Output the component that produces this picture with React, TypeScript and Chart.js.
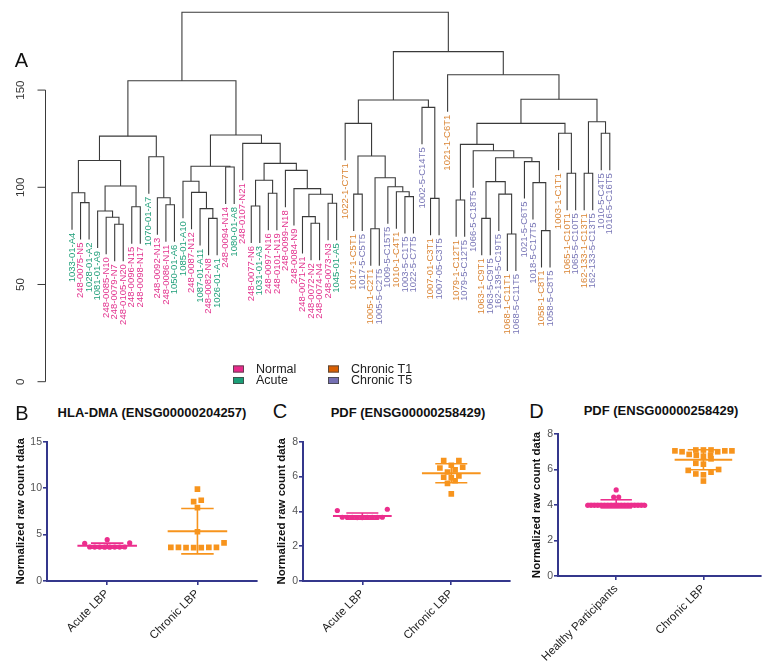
import React, { useEffect, useRef } from 'react';
import { Chart, registerables } from 'chart.js';

Chart.register(...registerables);

const FONT = '"Liberation Sans", Arial, Helvetica, sans-serif';

// ---------------- Panel A: hierarchical clustering ----------------
const leafLabels: string[] = [
  '1033-01-A4', '248-0075-N5', '1028-01-A2', '1081-01-A9', '248-0085-N10', '248-0079-N7', '248-0105-N20', '248-0096-N15', '248-0098-N17',
  '1070-01-A7', '248-0092-N13', '248-0086-N11', '1050-01-A6', '1085-01-A10', '248-0087-N12', '1087-01-A11', '248-0082-N8', '1026-01-A1',
  '248-0094-N14', '1080-01-A8', '248-0107-N21', '248-0077-N6', '1031-01-A3', '248-0097-N16', '248-0101-N19', '248-0099-N18', '248-0084-N9',
  '248-0071-N1', '248-0072-N2', '248-0074-N4', '248-0073-N3', '1045-01-A5',
  '1022-1-C7T1', '1017-1-C5T1', '1017-5-C5T5', '1005-1-C2T1', '1005-5-C2T5', '1009-5-C15T5', '1010-1-C4T1', '1003-5-C1T5', '1022-5-C7T5',
  '1002-5-C14T5', '1007-01-C3T1', '1007-05-C3T5', '1021-1-C6T1', '1079-1-C12T1', '1079-5-C12T5', '1066-5-C18T5', '1063-1-C9T1', '1063-5-C9T5',
  '162-139-5-C19T5', '1068-1-C11T1', '1068-5-C11T5', '1021-5-C6T5', '1018-5-C17T5', '1058-1-C8T1', '1058-5-C8T5', '1003-1-C1T1',
  '1065-1-C10T1', '1065-5-C10T5', '162-133-1-C13T1', '162-133-5-C13T5', '1010-5-C4T5', '1016-5-C16T5',
];

// hclust-style merge table: negative = leaf number (1-based, in plotted order), positive = earlier merge row (1-based); third = height
const merges: [number, number, number][] = [
  [-2, -3, 92.1], [-1, 1, 97.2], [-6, -7, 81.0], [-5, 3, 84.6], [-4, 4, 87.8], [-8, -9, 90.0], [5, 6, 100.7], [2, 7, 113.8],
  [-12, -13, 91.0], [-11, 9, 94.6], [-10, 10, 115.7], [8, 11, 126.3],
  [-17, -18, 84.0], [-16, 13, 89.0], [-15, 14, 97.4], [-14, 15, 103.1], [-19, -20, 110.4], [16, 17, 110.8],
  [-22, -23, 90.4], [-24, -25, 96.9], [19, 20, 103.6], [-29, -30, 81.5], [-28, 22, 84.9], [-31, -32, 91.8], [23, 24, 96.4],
  [-27, 25, 99.3], [-26, 26, 108.7], [21, 27, 112.3], [-21, 28, 122.6], [18, 29, 126.9], [12, 30, 154.8],
  [-34, -35, 96.5], [-36, -37, 78.7], [-40, -41, 95.2], [-39, 34, 97.7], [-38, 35, 100.3], [33, 36, 104.9], [32, 37, 116.1],
  [-33, 38, 132.9], [-43, -44, 94.3], [-42, 40, 141.1], [39, 41, 144.9],
  [-46, -47, 93.5], [-49, -50, 84.0], [-52, -53, 76.0], [-51, 45, 96.5], [44, 46, 102.9], [-56, -57, 77.7], [-55, 48, 102.4],
  [-54, 49, 113.2], [47, 50, 115.2], [-48, 51, 118.8], [43, 52, 122.1], [-59, -60, 107.2], [-58, 54, 127.8], [53, 55, 132.9],
  [-61, -62, 107.2], [-63, -64, 127.8], [57, 58, 133.7], [56, 59, 145.3], [-45, 60, 157.9], [42, 61, 169.8], [31, 62, 190.0],
];

const dendroYTicks = [0, 50, 100, 150];
const legendItems = ['Normal', 'Acute', 'Chronic T1', 'Chronic T5'];
const groupColor: Record<string, string> = {
  Normal: '#e7298a', Acute: '#1b9e77', 'Chronic T1': '#d95f02', 'Chronic T5': '#7570b3',
};
const labelColor: Record<string, string> = {
  Normal: '#e2338e', Acute: '#22a07b', 'Chronic T1': '#da8535', 'Chronic T5': '#7876b6',
};

// ---------------- Panels B, C, D ----------------
const panelBTitle = 'HLA-DMA (ENSG00000204257)';
const panelBCategories = ['Acute LBP', 'Chronic LBP'];
const panelBAcute = [4.45, 4.05, 3.65, 3.64, 3.66, 3.65, 3.64, 3.66, 3.65, 3.65, 4.1];
const panelBChronic = [9.9, 8.7, 8.55, 7.9, 5.3, 4.1, 3.62, 3.6, 3.62, 3.6, 3.62, 3.6, 3.62];

const panelCTitle = 'PDF (ENSG00000258429)';
const panelCCategories = ['Acute LBP', 'Chronic LBP'];
const panelCAcute = [4.12, 4.05, 3.65, 3.65, 3.64, 3.66, 3.65, 3.64, 3.66, 3.65, 3.65];
const panelCChronic = [6.91, 6.91, 6.65, 6.49, 6.53, 6.38, 6.26, 5.96, 5.94, 6.03, 5.76, 5.61, 5.0];

const panelDTitle = 'PDF (ENSG00000258429)';
const panelDCategories = ['Healthy Participants', 'Chronic LBP'];
const panelDHealthy = [4.85, 4.45, 4.45, 3.98, 3.98, 3.98, 3.98, 3.98, 3.98, 3.98, 3.98, 3.98, 3.98, 3.98, 3.98, 3.98, 3.98, 3.98, 3.98, 3.98, 3.98];
const panelDChronic = [7.1, 7.05, 7.1, 7.0, 7.05, 7.1, 7.0, 7.05, 6.8, 6.85, 6.75, 6.8, 6.6, 6.35, 6.3, 6.0, 5.95, 5.85, 5.75, 5.7, 5.35];

const PINK = '#ec2e8d';
const ORANGE = '#f7941d';
const NAVY = '#34378c';
const MEAN_HALF = 0.33;
const CAP_HALF = 0.18;

function groupOf(label: string): string {
  if (/T1$/.test(label)) return 'Chronic T1';
  if (/T5$/.test(label)) return 'Chronic T5';
  if (/-N\d+$/.test(label)) return 'Normal';
  return 'Acute';
}

function buildDendro() {
  const maxH = Math.max(...merges.map((m) => m[2]));
  const hang = 0.1 * maxH;
  const nodeX: number[] = [];
  const leafBottom: number[] = new Array(leafLabels.length).fill(0);
  const segments: { x: number; y: number }[][] = [];
  merges.forEach(([a, b, h], i) => {
    const child = (r: number) => {
      if (r < 0) {
        const li = -r - 1;
        leafBottom[li] = h - hang;
        return { x: li, y: h - hang };
      }
      return { x: nodeX[r - 1], y: merges[r - 1][2] };
    };
    const ca = child(a);
    const cb = child(b);
    nodeX[i] = (ca.x + cb.x) / 2;
    segments.push([
      { x: ca.x, y: ca.y }, { x: ca.x, y: h }, { x: cb.x, y: h }, { x: cb.x, y: cb.y },
    ]);
  });
  return { segments, leafBottom };
}

function Dendrogram() {
  const ref = useRef<HTMLCanvasElement>(null);
  useEffect(() => {
    const { segments, leafBottom } = buildDendro();
    const decor = {
      id: 'dendroDecor',
      afterDraw(chart: any) {
        const { ctx, chartArea } = chart;
        const xs = chart.scales.x;
        const ys = chart.scales.y;
        ctx.save();
        const axisX = Math.round(chartArea.left - 1.5) + 0.5;
        ctx.strokeStyle = '#3a3a3a';
        ctx.lineWidth = 1;
        ctx.beginPath();
        ctx.moveTo(axisX, ys.getPixelForValue(dendroYTicks[0]));
        ctx.lineTo(axisX, ys.getPixelForValue(dendroYTicks[dendroYTicks.length - 1]));
        dendroYTicks.forEach((t) => {
          const y = ys.getPixelForValue(t);
          ctx.moveTo(axisX, y);
          ctx.lineTo(axisX - 8, y);
        });
        ctx.stroke();
        ctx.fillStyle = '#333';
        ctx.font = `11.5px ${FONT}`;
        ctx.textAlign = 'center';
        ctx.textBaseline = 'middle';
        dendroYTicks.forEach((t) => {
          ctx.save();
          ctx.translate(axisX - 25, ys.getPixelForValue(t));
          ctx.rotate(-Math.PI / 2);
          ctx.fillText(String(t), 0, 0);
          ctx.restore();
        });
        // leaf labels
        ctx.font = `9.5px ${FONT}`;
        ctx.textAlign = 'right';
        ctx.textBaseline = 'middle';
        leafLabels.forEach((lab, i) => {
          const px = xs.getPixelForValue(i);
          const py = ys.getPixelForValue(leafBottom[i]) + 3;
          ctx.save();
          ctx.translate(px, py);
          ctx.rotate(-Math.PI / 2);
          ctx.fillStyle = labelColor[groupOf(lab)];
          ctx.fillText(lab, 0, 0);
          ctx.restore();
        });
        // legend
        ctx.font = `12.5px ${FONT}`;
        ctx.textAlign = 'left';
        ctx.textBaseline = 'middle';
        legendItems.forEach((item, i) => {
          const col = Math.floor(i / 2);
          const row = i % 2;
          const bx = 233 + col * 95;
          const cy = 369 + row * 11.5;
          ctx.fillStyle = groupColor[item];
          ctx.fillRect(bx, cy - 3.5, 11, 7);
          ctx.strokeStyle = '#444';
          ctx.lineWidth = 0.8;
          ctx.strokeRect(bx + 0.4, cy - 3.1, 10.2, 6.2);
          ctx.fillStyle = '#222';
          ctx.fillText(item, bx + 23, cy + 0.5);
        });
        ctx.restore();
      },
    };
    const chart = new Chart(ref.current as HTMLCanvasElement, {
      type: 'scatter',
      data: {
        datasets: segments.map((seg) => ({
          data: seg,
          showLine: true,
          pointRadius: 0,
          borderColor: '#3a3a3a',
          borderWidth: 1.1,
          tension: 0,
        })),
      },
      options: {
        animation: false,
        responsive: false,
        maintainAspectRatio: false,
        events: [],
        layout: { padding: { left: 46.4, right: 129.6, top: 2.6, bottom: 18.3 } },
        scales: {
          x: { type: 'linear', min: -3, max: 66, display: false },
          y: { type: 'linear', min: 0, max: 195, display: false },
        },
        plugins: { legend: { display: false }, tooltip: { enabled: false } },
      } as any,
      plugins: [decor],
    });
    return () => chart.destroy();
  }, []);
  return (
    <canvas
      ref={ref}
      width={765}
      height={400}
      style={{ position: 'absolute', left: 0, top: 0, width: 765, height: 400 }}
    />
  );
}

function meanOf(v: number[]) {
  return v.reduce((s, x) => s + x, 0) / v.length;
}
function sdOf(v: number[]) {
  const m = meanOf(v);
  return Math.sqrt(v.reduce((s, x) => s + (x - m) * (x - m), 0) / (v.length - 1));
}

// spread points of a column into horizontal rows (Prism-like scatter)
function rowSpread(values: number[], pxPerY: number, spacingPx: number, thresholdPx: number, maxWidthPx: number) {
  const idx = values.map((_, i) => i).sort((a, b) => values[a] - values[b]);
  const rows: number[][] = [];
  let cur: number[] = [];
  let start = 0;
  idx.forEach((i) => {
    if (cur.length && (values[i] - start) * pxPerY > thresholdPx) {
      rows.push(cur);
      cur = [];
    }
    if (!cur.length) start = values[i];
    cur.push(i);
  });
  if (cur.length) rows.push(cur);
  const offs = new Array(values.length).fill(0);
  rows.forEach((row) => {
    const n = row.length;
    const sp = n > 1 ? Math.min(spacingPx, maxWidthPx / (n - 1)) : 0;
    const slots = Array.from({ length: n }, (_, k) => (k - (n - 1) / 2) * sp);
    const order = slots
      .map((_, k) => k)
      .sort((a, b) => Math.abs(slots[a]) - Math.abs(slots[b]) || slots[a] - slots[b]);
    row.forEach((vi, r) => {
      offs[vi] = slots[order[r]];
    });
  });
  return offs;
}

type Series = { values: number[]; color: string; shape: 'circle' | 'rect'; rowPx?: number };

type PanelProps = {
  left: number;
  top: number;
  width: number;
  height: number;
  padTop: number;
  padRight: number;
  yAxisWidth: number;
  xAxisHeight: number;
  yMax: number;
  yStep: number;
  titlePad: number;
  categories: string[];
  series: Series[];
};

function DotPanel(p: PanelProps) {
  const ref = useRef<HTMLCanvasElement>(null);
  useEffect(() => {
    const datasets: any[] = [];
    const swarm: { ds: number; cat: number; values: number[]; spacing: number; rowPx: number }[] = [];
    p.series.forEach((s, ci) => {
      const m = meanOf(s.values);
      const sd = sdOf(s.values);
      const line = (pts: { x: number; y: number }[], w: number) => ({
        data: pts,
        showLine: true,
        borderColor: s.color,
        borderWidth: w,
        pointRadius: 0,
        order: 0,
      });
      datasets.push(line([{ x: ci - MEAN_HALF, y: m }, { x: ci + MEAN_HALF, y: m }], 2));
      datasets.push(line([{ x: ci, y: m - sd }, { x: ci, y: m + sd }], 1.6));
      datasets.push(line([{ x: ci - CAP_HALF, y: m - sd }, { x: ci + CAP_HALF, y: m - sd }], 1.6));
      datasets.push(line([{ x: ci - CAP_HALF, y: m + sd }, { x: ci + CAP_HALF, y: m + sd }], 1.6));
      swarm.push({
        ds: datasets.length,
        cat: ci,
        values: s.values,
        spacing: s.shape === 'circle' ? 5 : 7.6,
        rowPx: s.rowPx ?? 5.5,
      });
      datasets.push({
        data: s.values.map((v) => ({ x: ci, y: v })),
        showLine: false,
        pointStyle: s.shape,
        pointRadius: s.shape === 'circle' ? 2.6 : 4,
        backgroundColor: s.color,
        borderColor: s.color,
        borderWidth: 0,
        order: 1,
      });
    });
    const axisCommon = {
      border: { display: true, color: NAVY, width: 2 },
      grid: { display: true, drawOnChartArea: false, drawTicks: true, tickLength: 4, color: NAVY, lineWidth: 1.6 },
    };
    const chart = new Chart(ref.current as HTMLCanvasElement, {
      type: 'scatter',
      data: { datasets },
      options: {
        animation: false,
        responsive: false,
        maintainAspectRatio: false,
        events: [],
        layout: { padding: { left: 0, right: p.padRight, top: p.padTop, bottom: 0 } },
        scales: {
          x: {
            type: 'linear',
            min: -0.667,
            max: 1.66,
            ...axisCommon,
            afterBuildTicks: (s: any) => {
              s.ticks = p.categories.map((_, i) => ({ value: i }));
            },
            afterFit: (s: any) => {
              s.height = p.xAxisHeight;
            },
            ticks: {
              autoSkip: false,
              minRotation: 45,
              maxRotation: 45,
              padding: 2,
              color: '#222',
              font: { family: FONT, size: 11.5 },
              callback: (v: any) => p.categories[Math.round(Number(v))] ?? '',
            },
          },
          y: {
            type: 'linear',
            min: 0,
            max: p.yMax,
            ...axisCommon,
            afterFit: (s: any) => {
              s.width = p.yAxisWidth;
            },
            ticks: {
              stepSize: p.yStep,
              padding: 1,
              color: '#555',
              font: { family: FONT, size: 10.5 },
            },
            title: {
              display: true,
              text: 'Normalized raw count data',
              color: '#111',
              font: { family: FONT, size: 11.5, weight: 'bold' },
              padding: { top: p.titlePad, bottom: 0 },
            },
          },
        },
        plugins: { legend: { display: false }, tooltip: { enabled: false } },
      } as any,
    });
    const xs: any = chart.scales.x;
    const ys: any = chart.scales.y;
    const pxX = Math.abs(xs.getPixelForValue(1) - xs.getPixelForValue(0));
    const pxY = Math.abs(ys.getPixelForValue(1) - ys.getPixelForValue(0));
    swarm.forEach((sw) => {
      const offs = rowSpread(sw.values, pxY, sw.spacing, sw.rowPx, 57);
      chart.data.datasets[sw.ds].data = sw.values.map((v, i) => ({ x: sw.cat + offs[i] / pxX, y: v })) as any;
    });
    chart.update();
    return () => chart.destroy();
  }, []);
  return (
    <canvas
      ref={ref}
      width={p.width}
      height={p.height}
      style={{ position: 'absolute', left: p.left, top: p.top, width: p.width, height: p.height }}
    />
  );
}

function Label(props: { x: number; y: number; size: number; bold?: boolean; children: React.ReactNode }) {
  return (
    <div
      style={{
        position: 'absolute',
        left: props.x,
        top: props.y,
        transform: 'translate(-50%, -50%)',
        fontFamily: FONT,
        fontSize: props.size,
        fontWeight: props.bold ? 'bold' : 'normal',
        lineHeight: 1,
        whiteSpace: 'nowrap',
        color: '#111',
      }}
    >
      {props.children}
    </div>
  );
}

export default function App() {
  return (
    <div
      style={{
        position: 'absolute',
        left: 0,
        top: 0,
        width: 765,
        height: 662,
        background: '#ffffff',
        overflow: 'hidden',
      }}
    >
      <Dendrogram />
      <Label x={21.5} y={60} size={20}>A</Label>
      <Label x={22} y={413} size={20}>B</Label>
      <Label x={280} y={411} size={20}>C</Label>
      <Label x={536.5} y={411} size={20}>D</Label>
      <Label x={152} y={412} size={13} bold>{panelBTitle}</Label>
      <Label x={408} y={412} size={13} bold>{panelCTitle}</Label>
      <Label x={661} y={410} size={13} bold>{panelDTitle}</Label>
      <DotPanel
        left={0}
        top={425}
        width={262}
        height={237}
        padTop={16.7}
        padRight={5}
        yAxisWidth={47}
        xAxisHeight={81}
        yMax={15}
        yStep={5}
        titlePad={14}
        categories={panelBCategories}
        series={[
          { values: panelBAcute, color: PINK, shape: 'circle' },
          { values: panelBChronic, color: ORANGE, shape: 'rect' },
        ]}
      />
      <DotPanel
        left={256}
        top={425}
        width={259}
        height={237}
        padTop={16.7}
        padRight={5}
        yAxisWidth={47}
        xAxisHeight={81}
        yMax={8}
        yStep={2}
        titlePad={18.5}
        categories={panelCCategories}
        series={[
          { values: panelCAcute, color: PINK, shape: 'circle', rowPx: 9 },
          { values: panelCChronic, color: ORANGE, shape: 'rect' },
        ]}
      />
      <DotPanel
        left={511}
        top={425}
        width={254}
        height={237}
        padTop={9}
        padRight={2}
        yAxisWidth={47}
        xAxisHeight={86}
        yMax={8}
        yStep={2}
        titlePad={19}
        categories={panelDCategories}
        series={[
          { values: panelDHealthy, color: PINK, shape: 'circle' },
          { values: panelDChronic, color: ORANGE, shape: 'rect' },
        ]}
      />
    </div>
  );
}
